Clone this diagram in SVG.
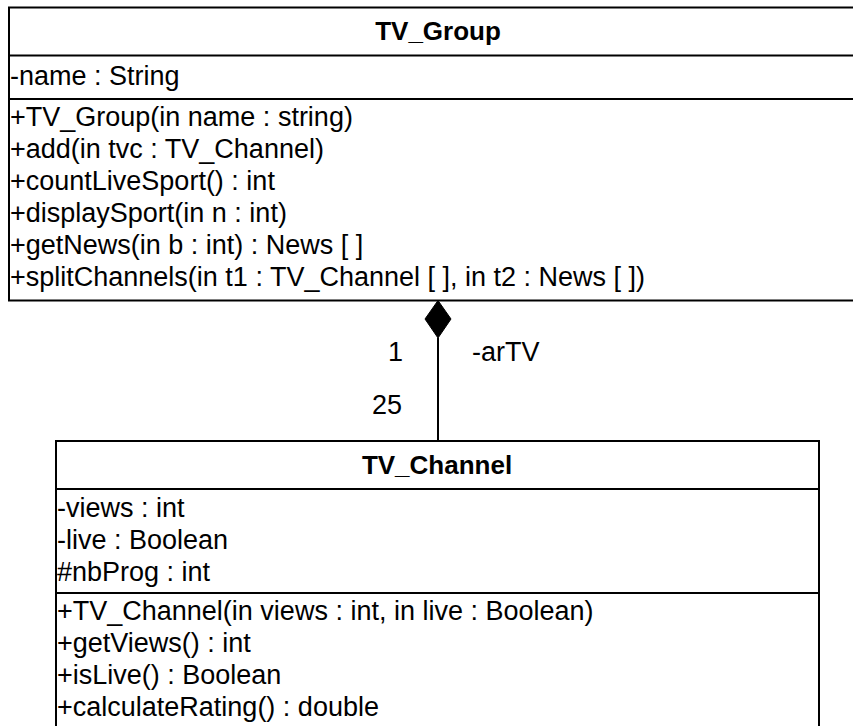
<svg xmlns="http://www.w3.org/2000/svg" width="853" height="726" viewBox="0 0 853 726">
  <style>
    .box { fill: #ffffff; stroke: #000000; stroke-width: 2; }
    .div { stroke: #000000; stroke-width: 2; }
    .t { font-family: "Liberation Sans", Arial, sans-serif; font-size: 27px; fill: #000000; }
    .title { font-family: "Liberation Sans", Arial, sans-serif; font-size: 26px; font-weight: bold; fill: #000000; text-anchor: middle; }
    .conn { stroke: #000000; stroke-width: 2; fill: none; }
  </style>
  <rect width="853" height="726" fill="#ffffff"/>
  <g id="TV_Group">
    <rect class="box" x="9" y="7.5" width="860" height="293"/>
    <line class="div" x1="9" y1="55.5" x2="869" y2="55.5"/>
    <line class="div" x1="9" y1="99" x2="869" y2="99"/>
    <text class="title" x="438" y="40">TV_Group</text>
    <text class="t" x="10" y="85">-name : String</text>
    <text class="t" x="10" y="126">+TV_Group(in name : string)</text>
    <text class="t" x="10" y="158">+add(in tvc : TV_Channel)</text>
    <text class="t" x="10" y="190">+countLiveSport() : int</text>
    <text class="t" x="10" y="222">+displaySport(in n : int)</text>
    <text class="t" x="10" y="254">+getNews(in b : int) : News [ ]</text>
    <text class="t" x="10" y="286">+splitChannels(in t1 : TV_Channel [ ], in t2 : News [ ])</text>
  </g>
  <g id="TV_Channel">
    <rect class="box" x="56" y="441" width="763" height="300"/>
    <line class="div" x1="56" y1="489" x2="819" y2="489"/>
    <line class="div" x1="56" y1="593" x2="819" y2="593"/>
    <text class="title" x="437" y="474">TV_Channel</text>
    <text class="t" x="57" y="517">-views : int</text>
    <text class="t" x="57" y="549">-live : Boolean</text>
    <text class="t" x="57" y="581">#nbProg : int</text>
    <text class="t" x="57" y="620">+TV_Channel(in views : int, in live : Boolean)</text>
    <text class="t" x="57" y="652">+getViews() : int</text>
    <text class="t" x="57" y="684">+isLive() : Boolean</text>
    <text class="t" x="57" y="716">+calculateRating() : double</text>
  </g>
  <g id="connectors">
    <line class="conn" x1="438" y1="338" x2="438" y2="441"/>
    <polygon points="438,300.5 451,319 438,338 425,319" fill="#000000" stroke="#000000" stroke-width="1"/>
    <text class="t" x="388" y="361">1</text>
    <text class="t" x="472" y="361">-arTV</text>
    <text class="t" x="372" y="414">25</text>
  </g>
</svg>
